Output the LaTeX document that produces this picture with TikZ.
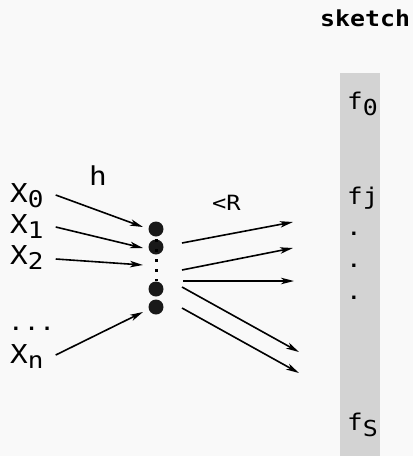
\documentclass[tikz,border=0pt]{standalone}
\usepackage{fontspec}
\newfontfamily\skmono[FakeStretch=1.13]{DejaVu Sans Mono}
\usetikzlibrary{arrows.meta}
\definecolor{bgcol}{RGB}{249,249,249}
\definecolor{barcol}{RGB}{211,211,211}
\newcommand\xsub[1]{\raisebox{-5pt}{\fontsize{23}{23}\selectfont #1}}
\newcommand\fsub[1]{\raisebox{-6pt}{\fontsize{22}{22}\selectfont #1}}
\begin{document}
\begin{tikzpicture}[x=1pt,y=-1pt,>={Stealth[length=13pt,width=6.5pt,inset=3.5pt]},
  inlbl/.style={inner sep=0pt,anchor=base west,font=\skmono\fontsize{26}{26}\selectfont},
  entry/.style={inner sep=0pt,anchor=base west,font=\skmono\fontsize{23}{23}\selectfont},
  hash/.style={circle,fill=black!90,inner sep=0pt,minimum size=15pt},
  arr/.style={line width=1.6pt,->}]
\fill[bgcol] (0,0) rectangle (413,456);
\useasboundingbox (0,0) rectangle (413,456);
% sketch column
\node[inner sep=0pt,anchor=base west,font=\skmono\bfseries\fontsize{22}{22}\selectfont] (title) at (320,26) {sketch};
\fill[barcol] (340,73) rectangle (380,456);
\node[entry] (f0) at (347,109) {f\fsub{0}};
\node[entry] (fj) at (347,204) {fj};
\node[entry] (d1) at (346,235) {.};
\node[entry] (d2) at (346,267) {.};
\node[entry] (d3) at (346,299) {.};
\node[entry] (fs) at (347,430) {f\fsub{S}};
% inputs
\node[inlbl] (x0) at (10,202) {X\xsub{0}};
\node[inlbl] (x1) at (10,233) {X\xsub{1}};
\node[inlbl] (x2) at (10,264) {X\xsub{2}};
\node[inlbl,font=\skmono\fontsize{23}{23}\selectfont] (xdots) at (8,330) {...};
\node[inlbl] (xn) at (10,363) {X\xsub{n}};
\node[inlbl] (hlab) at (89,185) {h};
\node[inlbl,font=\skmono\fontsize{21}{21}\selectfont] (rlab) at (212,210) {<R};
% hash buckets
\node[hash] (c1) at (156,229) {};
\node[hash] (c2) at (156,247) {};
\node[hash] (c3) at (156,289) {};
\node[hash] (c4) at (156,307) {};
\draw[line width=3pt,dash pattern=on 3pt off 7pt] ([yshift=8pt]c2.center) -- (c3.north);
% arrow ends
\coordinate (i0) at (143,227);
\coordinate (i1) at (143,248);
\coordinate (i2) at (143,265);
\coordinate (in) at (143,312);
\draw[arr] ([xshift=12pt,yshift=7pt]x0.base east) -- (i0);
\draw[arr] ([xshift=12pt,yshift=6pt]x1.base east) -- (i1);
\draw[arr] ([xshift=12pt,yshift=5pt]x2.base east) -- (i2);
\draw[arr] ([xshift=12pt,yshift=8pt]xn.base east) -- (in);
\coordinate (s1) at (182,243); \coordinate (e1) at (293,222);
\coordinate (s2) at (182,270); \coordinate (e2) at (293,248);
\coordinate (s3) at (183,281); \coordinate (e3) at (294,281);
\coordinate (s4) at (182,287); \coordinate (e4) at (299,352);
\coordinate (s5) at (182,308); \coordinate (e5) at (299,373);
\foreach \k in {1,...,5}
  \draw[arr] (s\k) -- (e\k);
\end{tikzpicture}
\end{document}
